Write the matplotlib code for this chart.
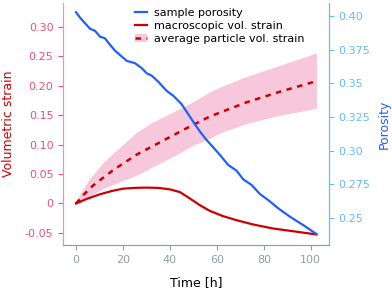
import numpy as np
import matplotlib
matplotlib.use('Agg')
import matplotlib.pyplot as plt
from matplotlib.patches import Patch
from matplotlib.lines import Line2D

# porosity of the sample
t_por = [0, 1.7, 3.8, 6.0, 8.1, 10.2, 12.3, 14.5, 16.6, 18.7, 21.6, 25.1, 28.0, 30.1, 32.2,
         35.0, 38.6, 41.4, 45.0, 47.1, 49.9, 52.8, 55.6, 58.4, 61.3, 64.8, 68.4, 71.2, 74.8,
         78.3, 81.8, 86.1, 91.1, 96.7, 102.4]
porosity = [0.4027, 0.3987, 0.3946, 0.3904, 0.3889, 0.3846, 0.3834, 0.3785, 0.3742, 0.3710,
            0.3666, 0.3649, 0.3612, 0.3574, 0.3557, 0.3512, 0.3443, 0.3408, 0.3344, 0.3289,
            0.3215, 0.3141, 0.3079, 0.3025, 0.2968, 0.2894, 0.2851, 0.2787, 0.2745, 0.2678,
            0.2634, 0.2572, 0.2510, 0.2448, 0.2381]

# macroscopic volumetric strain
t_mac = [0, 5, 10, 15, 20, 25, 30, 35, 40, 44.3, 48.5, 52.8, 57, 62.7, 68.4, 75.4, 83.9, 92.3, 102.4]
macro = [0, 0.0085, 0.0154, 0.021, 0.0252, 0.0265, 0.027, 0.0265, 0.024, 0.0193, 0.0085, -0.003,
         -0.0126, -0.0216, -0.0284, -0.0357, -0.0425, -0.0471, -0.0527]

# average particle volumetric strain (mean and band)
t_avg = [0, 3, 7.4, 11.6, 15.9, 20.1, 25.8, 32.9, 40, 47.1, 57, 72.6, 86.8, 102.4]
avg = [0, 0.014, 0.031, 0.044, 0.057, 0.068, 0.083, 0.098, 0.113, 0.128, 0.148, 0.172, 0.190, 0.208]
t_band = [0, 1.7, 6, 11.6, 18.7, 25.8, 32, 42.8, 49.9, 57, 61.3, 72.6, 86.8, 102.4]
upper = [0, 0.017, 0.043, 0.07, 0.096, 0.121, 0.137, 0.1587, 0.173, 0.190, 0.198, 0.216,
         0.235, 0.256]
lower = [0, 0.005, 0.013, 0.0255, 0.037, 0.048, 0.061, 0.083, 0.0993, 0.1105, 0.120, 0.136,
         0.150, 0.1616]

red = '#cc0000'
pink = '#e8507a'
blue = '#1f5fff'
lblue = '#66b8ff'
grey = '#8fa0a0'
band = '#f7c8dc'

fig = plt.figure(figsize=(3.92, 2.93), dpi=100)
ax = fig.add_axes([0.161, 0.164, 0.678, 0.826])
ax2 = ax.twinx()

ax.fill_between(t_band, lower, upper, color=band, lw=0)
ax.plot(t_avg, avg, color=red, lw=1.8, ls=(0, (2.2, 2.2)))
ax.plot(t_mac, macro, color=red, lw=1.6)
ax2.plot(t_por, porosity, color=blue, lw=1.6)

ax.set_xlim(-5.5, 107.7)
ax.set_ylim(-0.0705, 0.341)
ax2.set_ylim(0.230, 0.4096)
ax.set_xticks([0, 20, 40, 60, 80, 100])
ax.set_yticks([-0.05, 0, 0.05, 0.10, 0.15, 0.20, 0.25, 0.30])
ax.set_yticklabels(['-0.05', '0', '0.05', '0.10', '0.15', '0.20', '0.25', '0.30'])
ax2.set_yticks([0.25, 0.275, 0.30, 0.325, 0.35, 0.375, 0.40])
ax2.set_yticklabels(['0.25', '0.275', '0.30', '0.325', '0.35', '0.375', '0.40'])

for a in (ax, ax2):
    a.spines['top'].set_visible(False)
    a.spines['left'].set_color('#f38fb8')
    a.spines['right'].set_color(lblue)
    a.spines['bottom'].set_color(grey)
ax.tick_params(axis='y', colors=pink, labelsize=8)
ax.tick_params(axis='x', colors=grey, labelsize=8)
ax2.tick_params(axis='y', colors=lblue, labelsize=8)

ax.set_xlabel('Time [h]', fontsize=9, labelpad=8)
ax.set_ylabel('Volumetric strain', color=red, fontsize=9, labelpad=7)
ax2.set_ylabel('Porosity', color=blue, fontsize=9, labelpad=5)

handles = [Line2D([], [], color=blue, lw=1.6),
           Line2D([], [], color=red, lw=1.6),
           (Patch(color=band, lw=0), Line2D([], [], color=red, lw=1.8, ls=(0, (2.2, 2.2))))]
labels = ['sample porosity', 'macroscopic vol. strain', 'average particle vol. strain']
ax2.legend(handles, labels, loc='upper left', bbox_to_anchor=(0.24, 1.01), frameon=False,
           fontsize=8, handlelength=1.15, handletextpad=0.55, labelspacing=0.25, borderpad=0.2)

fig.savefig('out.png', dpi=100)
